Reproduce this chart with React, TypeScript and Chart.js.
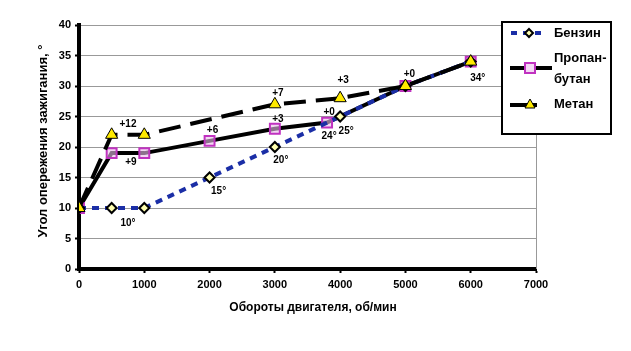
import { useEffect, useRef } from 'react';
import { Chart, registerables } from 'chart.js';

Chart.register(...registerables);

const FONT = 'Arial, "Liberation Sans", sans-serif';

// ---- data ----
const seriesNames = ['Бензин', 'Пропан-бутан', 'Метан'];
const rpmBenzin = [0, 500, 1000, 2000, 3000, 4000, 5000, 6000];
const angleBenzin = [10, 10, 10, 15, 20, 25, 30, 34];
const rpmPropan = [0, 500, 1000, 2000, 3000, 3800, 5000, 6000];
const anglePropan = [10, 19, 19, 21, 23, 24, 30, 34];
const rpmMetan = [0, 500, 1000, 3000, 4000, 5000, 6000];
const angleMetan = [10, 22, 22, 27, 28, 30, 34];

const xTitle = 'Обороты двигателя, об/мин';
const yTitle = 'Угол опережения зажигания, °';

// annotation texts and their anchor values
const annText = ['+12', '+9', '+6', '+7', '+3', '20°', '15°', '10°', '+3', '+0', '34°', '+0', '24°', '25°'];
const annX = [750, 750, 2000, 3000, 3000, 3000, 2000, 750, 4000, 5000, 6000, 3800, 3800, 4000];
const annY = [22, 19, 21, 27, 23, 20, 15, 10, 28, 30, 34, 24, 24, 25];
// pixel offsets (layout)
const annOffset: [number, number][] = [
  [0, -11], [3, 9], [3, -11], [3, -11], [3, -9], [6, 13], [9, 14], [0, 15],
  [3, -18], [4, -12], [7, 17], [2, -10], [2, 14], [6, 15],
];

const BLUE = '#1b2ea6';
const MAGENTA = '#c032c0';
const YELLOW = '#ffea00';

const toPts = (xs: number[], ys: number[]) => xs.map((x, i) => ({ x, y: ys[i] }));

function drawDiamond(ctx: CanvasRenderingContext2D, x: number, y: number, r: number) {
  ctx.beginPath();
  ctx.moveTo(x, y - r);
  ctx.lineTo(x + r, y);
  ctx.lineTo(x, y + r);
  ctx.lineTo(x - r, y);
  ctx.closePath();
}

const extras = {
  id: 'extras',
  beforeDatasetsDraw(chart: any) {
    const { ctx, chartArea } = chart;
    ctx.save();
    ctx.strokeStyle = '#999';
    ctx.lineWidth = 1;
    ctx.beginPath();
    ctx.moveTo(Math.round(chartArea.right) + 0.5, chartArea.top);
    ctx.lineTo(Math.round(chartArea.right) + 0.5, chartArea.bottom);
    ctx.stroke();
    ctx.restore();
  },
  afterDatasetsDraw(chart: any) {
    const { ctx } = chart;
    const xs = chart.scales.x;
    const ys = chart.scales.y;
    ctx.save();
    // annotations
    ctx.fillStyle = '#000';
    ctx.font = `bold 10px ${FONT}`;
    ctx.textAlign = 'center';
    ctx.textBaseline = 'middle';
    annText.forEach((t, i) => {
      const px = xs.getPixelForValue(annX[i]) + annOffset[i][0];
      const py = ys.getPixelForValue(annY[i]) + annOffset[i][1];
      ctx.fillText(t, px, py);
    });

    // legend box
    const lx = 502, ly = 22, lw = 109, lh = 112;
    ctx.fillStyle = '#fff';
    ctx.fillRect(lx, ly, lw, lh);
    ctx.strokeStyle = '#000';
    ctx.lineWidth = 2;
    ctx.strokeRect(lx, ly, lw, lh);

    // Бензин
    ctx.lineWidth = 4;
    ctx.strokeStyle = BLUE;
    ctx.setLineDash([6, 6]);
    ctx.beginPath();
    ctx.moveTo(511, 33);
    ctx.lineTo(541, 33);
    ctx.stroke();
    ctx.setLineDash([]);
    drawDiamond(ctx, 529, 33, 4);
    ctx.fillStyle = '#ffffb0';
    ctx.fill();
    ctx.lineWidth = 2;
    ctx.strokeStyle = '#000';
    ctx.stroke();

    // Пропан-бутан
    ctx.lineWidth = 4;
    ctx.strokeStyle = '#000';
    ctx.beginPath();
    ctx.moveTo(510, 68);
    ctx.lineTo(552, 68);
    ctx.stroke();
    ctx.fillStyle = '#f4d8f4';
    ctx.fillRect(525, 63, 10, 10);
    ctx.lineWidth = 2;
    ctx.strokeStyle = MAGENTA;
    ctx.strokeRect(525, 63, 10, 10);

    // Метан
    ctx.lineWidth = 4;
    ctx.strokeStyle = '#000';
    ctx.beginPath();
    ctx.moveTo(510, 105);
    ctx.lineTo(537, 105);
    ctx.stroke();
    ctx.beginPath();
    ctx.moveTo(530, 99);
    ctx.lineTo(535, 108);
    ctx.lineTo(525, 108);
    ctx.closePath();
    ctx.fillStyle = YELLOW;
    ctx.fill();
    ctx.lineWidth = 1;
    ctx.strokeStyle = '#000';
    ctx.stroke();

    ctx.fillStyle = '#000';
    ctx.font = `bold 13px ${FONT}`;
    ctx.textAlign = 'left';
    ctx.textBaseline = 'middle';
    ctx.fillText(seriesNames[0], 554, 33);
    ctx.fillText('Пропан-', 554, 58);
    ctx.fillText('бутан', 554, 79);
    ctx.fillText(seriesNames[2], 554, 104);
    ctx.restore();
  },
  afterDraw(chart: any) {
    const { ctx } = chart;
    ctx.save();
    ctx.fillStyle = '#000';
    ctx.font = `bold 12px ${FONT}`;
    ctx.textAlign = 'center';
    ctx.textBaseline = 'middle';
    ctx.fillText(xTitle, 313, 308);
    ctx.font = `bold 13px ${FONT}`;
    ctx.translate(43, 141);
    ctx.rotate(-Math.PI / 2);
    ctx.fillText(yTitle, 0, 0);
    ctx.restore();
  },
};

export default function App() {
  const ref = useRef<HTMLCanvasElement>(null);
  useEffect(() => {
    const tickFont = { size: 11, weight: 'bold' as const, family: FONT };
    const chart = new Chart(ref.current!, {
      type: 'line',
      data: {
        datasets: [
          {
            label: seriesNames[2],
            data: toPts(rpmMetan, angleMetan),
            borderColor: '#000',
            borderWidth: 4,
            borderDash: [22, 10],
            pointStyle: 'triangle',
            pointRadius: 7,
            pointBackgroundColor: YELLOW,
            pointBorderColor: '#000',
            pointBorderWidth: 1,
            order: 0,
          },
          {
            label: seriesNames[0],
            data: toPts(rpmBenzin, angleBenzin),
            borderColor: BLUE,
            borderWidth: 4,
            borderDash: [7, 6],
            pointStyle: 'rectRot',
            pointRadius: 5,
            pointBackgroundColor: '#ffffb0',
            pointBorderColor: '#000',
            pointBorderWidth: 2,
            order: 1,
          },
          {
            label: seriesNames[1],
            data: toPts(rpmPropan, anglePropan),
            borderColor: '#000',
            borderWidth: 4,
            pointStyle: 'rect',
            pointRadius: 7,
            pointBackgroundColor: 'rgba(235,190,235,0.6)',
            pointBorderColor: MAGENTA,
            pointBorderWidth: 2,
            order: 2,
          },
        ],
      },
      options: {
        responsive: false,
        devicePixelRatio: 1,
        animation: false,
        layout: { padding: { top: 25, right: 95, left: 0, bottom: 0 } },
        plugins: { legend: { display: false }, tooltip: { enabled: false } },
        scales: {
          x: {
            type: 'linear',
            min: 0,
            max: 7000,
            ticks: {
              stepSize: 1000,
              font: tickFont,
              color: '#000',
              padding: 5,
              maxRotation: 0,
              callback: (v: any) => String(v),
            },
            grid: { drawOnChartArea: false, tickLength: 4, tickColor: '#000', tickWidth: 2 },
            border: { color: '#000', width: 4 },
            afterFit: (s: any) => { s.height = 82; },
          },
          y: {
            min: 0,
            max: 40,
            ticks: { stepSize: 5, font: tickFont, color: '#000', padding: 4 },
            grid: { color: '#999', lineWidth: 1, tickLength: 4, tickColor: '#000', tickWidth: 2 },
            border: { color: '#000', width: 4 },
            afterFit: (s: any) => { s.width = 79; },
          },
        },
      },
      plugins: [extras],
    });
    return () => chart.destroy();
  }, []);
  return (
    <div style={{ position: 'absolute', left: 0, top: 0, width: 631, height: 351, background: '#fff' }}>
      <canvas ref={ref} width={631} height={351} style={{ width: 631, height: 351, display: 'block' }} />
    </div>
  );
}
